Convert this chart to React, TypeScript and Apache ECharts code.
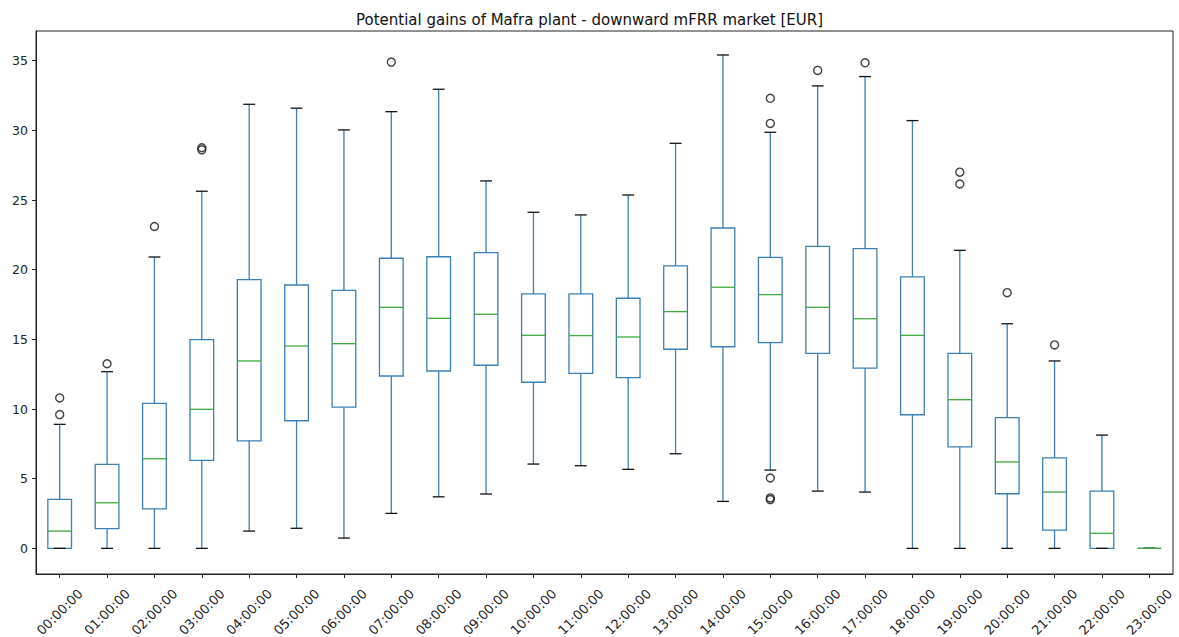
import React, { useEffect, useRef } from "react";
import * as echarts from "echarts";

// Hour-of-day categories
const hours = [
  "00:00:00", "01:00:00", "02:00:00", "03:00:00", "04:00:00", "05:00:00",
  "06:00:00", "07:00:00", "08:00:00", "09:00:00", "10:00:00", "11:00:00",
  "12:00:00", "13:00:00", "14:00:00", "15:00:00", "16:00:00", "17:00:00",
  "18:00:00", "19:00:00", "20:00:00", "21:00:00", "22:00:00", "23:00:00",
];

// Box statistics per hour [EUR]
const whiskerLow = [0, 0, 0, 0, 1.24, 1.44, 0.74, 2.51, 3.7, 3.9, 6.05, 5.93, 5.67, 6.79, 3.37, 5.62, 4.11, 4.04, 0, 0, 0, 0, 0, 0];
const q1 = [0, 1.41, 2.84, 6.32, 7.72, 9.16, 10.14, 12.37, 12.73, 13.14, 11.92, 12.56, 12.25, 14.29, 14.47, 14.76, 14.0, 12.94, 9.59, 7.29, 3.92, 1.31, 0, 0];
const median = [1.24, 3.27, 6.43, 9.98, 13.45, 14.52, 14.69, 17.3, 16.51, 16.8, 15.29, 15.27, 15.17, 16.99, 18.74, 18.21, 17.3, 16.48, 15.29, 10.67, 6.2, 4.04, 1.08, 0];
const q3 = [3.52, 6.03, 10.41, 14.98, 19.28, 18.9, 18.52, 20.82, 20.93, 21.22, 18.26, 18.26, 17.95, 20.27, 22.99, 20.89, 21.68, 21.51, 19.48, 14.0, 9.38, 6.5, 4.11, 0];
const whiskerHigh = [8.9, 12.68, 20.91, 25.63, 31.87, 31.59, 30.03, 31.34, 32.95, 26.37, 24.12, 23.93, 25.36, 29.07, 35.41, 29.86, 33.19, 33.86, 30.7, 21.39, 16.12, 13.45, 8.13, 0];

// Outliers: [hour index, value]
const outliers: [number, number][] = [
  [0, 9.6], [0, 10.8],
  [1, 13.25],
  [2, 23.1],
  [3, 28.6], [3, 28.75],
  [7, 34.9],
  [15, 5.05], [15, 3.5], [15, 3.62], [15, 30.5], [15, 32.3],
  [16, 34.3],
  [17, 34.85],
  [19, 26.15], [19, 27.0],
  [20, 18.35],
  [21, 14.6],
];

const yTicks = [0, 5, 10, 15, 20, 25, 30, 35];

const FONT = "DejaVu Sans";
const BOX_COLOR = "#3d7fb5";
const MEDIAN_COLOR = "#3fa83f";
const CAP_COLOR = "#111111";

export default function App() {
  const ref = useRef<HTMLDivElement>(null);

  useEffect(() => {
    if (!ref.current) return;
    const chart = echarts.init(ref.current, null, { renderer: "svg" });

    const boxData = hours.map((_, i) => [i, whiskerLow[i], q1[i], median[i], q3[i], whiskerHigh[i]]);

    chart.setOption({
      animation: false,
      backgroundColor: "#ffffff",
      title: {
        text: "Potential gains of Mafra plant - downward mFRR market [EUR]",
        left: "center",
        top: 7,
        textStyle: { fontFamily: FONT, fontSize: 15, fontWeight: "normal", color: "#111" },
      },
      grid: {
        left: 36,
        right: 6,
        top: 31,
        bottom: 63,
        containLabel: false,
        outerBoundsMode: "none",
        show: true,
        borderColor: "#222",
        borderWidth: 1,
        backgroundColor: "transparent",
      },
      xAxis: {
        type: "category",
        data: hours,
        boundaryGap: true,
        axisLine: { show: true, onZero: false, lineStyle: { color: "#222", width: 1 } },
        axisTick: { show: true, alignWithLabel: true, length: 4, lineStyle: { color: "#222" } },
        axisLabel: {
          rotate: 45,
          align: "center",
          verticalAlign: "middle",
          margin: 38,
          interval: 0,
          hideOverlap: false,
          fontFamily: FONT,
          fontSize: 13,
          color: "#222",
        },
        splitLine: { show: false },
      },
      yAxis: {
        type: "value",
        min: -1.84,
        max: 37.13,
        axisLine: { show: true, onZero: false, lineStyle: { color: "#222", width: 1 } },
        axisTick: { show: true, length: 4, lineStyle: { color: "#222" }, customValues: yTicks },
        axisLabel: {
          customValues: yTicks,
          margin: 8,
          fontFamily: FONT,
          fontSize: 12.5,
          color: "#222",
        },
        splitLine: { show: false },
      },
      series: [
        {
          type: "custom",
          data: boxData,
          encode: { x: 0, y: [1, 2, 3, 4, 5] },
          renderItem: (params: any, api: any) => {
            const idx = api.value(0);
            const pLo = api.coord([idx, api.value(1)]);
            const pQ1 = api.coord([idx, api.value(2)]);
            const pMed = api.coord([idx, api.value(3)]);
            const pQ3 = api.coord([idx, api.value(4)]);
            const pHi = api.coord([idx, api.value(5)]);
            const band = api.size([1, 0])[0];
            const x = pMed[0];
            const hb = band * 0.25;
            const hc = band * 0.125;
            const lw = 1.3;
            return {
              type: "group",
              children: [
                {
                  type: "rect",
                  shape: { x: x - hb, y: pQ3[1], width: hb * 2, height: pQ1[1] - pQ3[1] },
                  style: { fill: "none", stroke: BOX_COLOR, lineWidth: lw },
                },
                {
                  type: "line",
                  shape: { x1: x, y1: pQ1[1], x2: x, y2: pLo[1] },
                  style: { stroke: BOX_COLOR, lineWidth: lw },
                },
                {
                  type: "line",
                  shape: { x1: x, y1: pQ3[1], x2: x, y2: pHi[1] },
                  style: { stroke: BOX_COLOR, lineWidth: lw },
                },
                {
                  type: "line",
                  shape: { x1: x - hc, y1: pLo[1], x2: x + hc, y2: pLo[1] },
                  style: { stroke: CAP_COLOR, lineWidth: lw },
                },
                {
                  type: "line",
                  shape: { x1: x - hc, y1: pHi[1], x2: x + hc, y2: pHi[1] },
                  style: { stroke: CAP_COLOR, lineWidth: lw },
                },
                {
                  type: "line",
                  shape: { x1: x - hb, y1: pMed[1], x2: x + hb, y2: pMed[1] },
                  style: { stroke: MEDIAN_COLOR, lineWidth: lw },
                },
              ],
            };
          },
        },
        {
          type: "scatter",
          data: outliers,
          symbol: "circle",
          symbolSize: 8,
          itemStyle: { color: "rgba(255,255,255,0)", borderColor: "#111", borderWidth: 1.4 },
        },
      ],
    });

    return () => chart.dispose();
  }, []);

  return <div ref={ref} style={{ width: 1179, height: 637, position: "absolute", left: 0, top: 0 }} />;
}
